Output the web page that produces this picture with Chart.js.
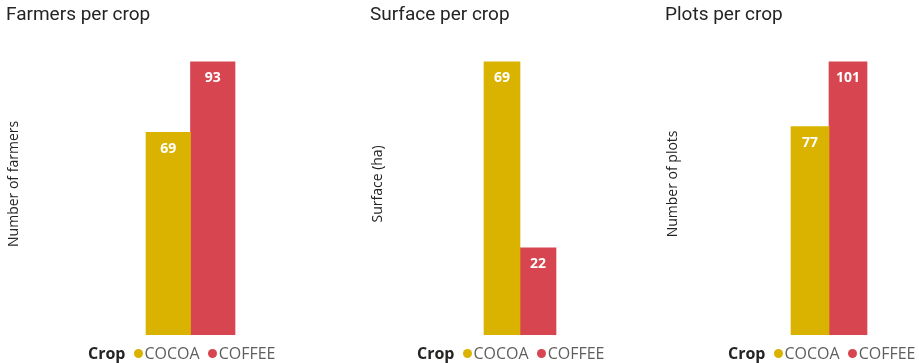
<!DOCTYPE html>
<html>
<head>
<meta charset="utf-8">
<script src="https://cdn.jsdelivr.net/npm/chart.js@4/dist/chart.umd.min.js"></script>
<style>
  html, body { margin: 0; padding: 0; background: #fff; overflow: hidden; }
  body { width: 919px; height: 363px; position: relative; }
  canvas { position: absolute; top: 0; }
  .legend {
    position: absolute; top: 343px; height: 20px;
    display: flex; align-items: center;
    font-family: 'Open Sans', sans-serif; font-size: 16px; color: #605E5C;
    white-space: nowrap;
  }
  .legend b { color: #252423; font-weight: 700; margin-right: 8px; }
  .legend .dot { width: 9px; height: 9px; border-radius: 50%; margin-right: 2px; }
  .legend .item { display: flex; align-items: center; margin-right: 8px; }
</style>
</head>
<body>
<script>
// chart data
const chartTitles = ['Farmers per crop', 'Surface per crop', 'Plots per crop'];
const yTitles = ['Number of farmers', 'Surface (ha)', 'Number of plots'];
const crops = ['COCOA', 'COFFEE'];
const cocoa = [69, 69, 77];
const coffee = [93, 22, 101];
const legendTitle = 'Crop';

const cropColors = ['#D9B300', '#D64550'];

// where each panel sits on the page
const panels = [
  { left: 0, width: 355, axisWidth: 20, barWidth: 44.5, legendLeft: 88 },
  { left: 364, width: 286, axisWidth: 20, barWidth: 36, legendLeft: 417 },
  { left: 659, width: 260, axisWidth: 74, barWidth: 38, legendLeft: 728 }
];
// empty room above the tallest bar, as a share of its value
const headroom = 0.106;

const valueLabels = {
  id: 'valueLabels',
  afterDatasetsDraw(chart) {
    const ctx = chart.ctx;
    ctx.save();
    ctx.fillStyle = '#ffffff';
    ctx.font = 'bold 14px "Open Sans", sans-serif';
    ctx.textAlign = 'center';
    ctx.textBaseline = 'middle';
    chart.data.datasets.forEach((ds, i) => {
      chart.getDatasetMeta(i).data.forEach((bar, j) => {
        ctx.fillText(String(ds.data[j]), bar.x, bar.y + 16.5);
      });
    });
    ctx.restore();
  }
};

panels.forEach((p, idx) => {
  const canvas = document.createElement('canvas');
  canvas.width = p.width;
  canvas.height = 363;
  canvas.style.left = p.left + 'px';
  canvas.style.width = p.width + 'px';
  canvas.style.height = '363px';
  document.body.appendChild(canvas);

  const series = [cocoa[idx], coffee[idx]];
  const top = Math.max(...series) * (1 + headroom);

  new Chart(canvas, {
    type: 'bar',
    data: {
      labels: [legendTitle],
      datasets: crops.map((crop, i) => ({
        label: crop,
        data: [series[i]],
        backgroundColor: cropColors[i],
        borderWidth: 0,
        barThickness: p.barWidth
      }))
    },
    options: {
      responsive: false,
      animation: false,
      devicePixelRatio: 1,
      layout: { padding: { left: 6, right: 0, top: 0, bottom: 28 } },
      plugins: {
        legend: { display: false },
        tooltip: { enabled: false },
        title: {
          display: true,
          text: chartTitles[idx],
          align: 'start',
          color: '#252423',
          font: { family: 'Roboto', size: 19, weight: 'normal' },
          padding: { top: 4, bottom: 6 }
        }
      },
      scales: {
        x: { display: false },
        y: {
          min: 0,
          max: top,
          grid: { display: false, drawTicks: false },
          border: { display: false },
          ticks: { display: false },
          title: {
            display: true,
            text: yTitles[idx],
            color: '#252423',
            font: { family: 'Open Sans', size: 14 },
            padding: { top: 0, bottom: 0 }
          },
          afterFit(scale) { scale.width = p.axisWidth; }
        }
      }
    },
    plugins: [valueLabels]
  });

  // legend in the Power BI style: "Crop ● COCOA ● COFFEE"
  const legend = document.createElement('div');
  legend.className = 'legend';
  legend.style.left = p.legendLeft + 'px';
  const head = document.createElement('b');
  head.textContent = legendTitle;
  legend.appendChild(head);
  crops.forEach((crop, i) => {
    const item = document.createElement('span');
    item.className = 'item';
    const dot = document.createElement('span');
    dot.className = 'dot';
    dot.style.background = cropColors[i];
    item.appendChild(dot);
    item.appendChild(document.createTextNode(crop));
    legend.appendChild(item);
  });
  document.body.appendChild(legend);
});
</script>
</body>
</html>
